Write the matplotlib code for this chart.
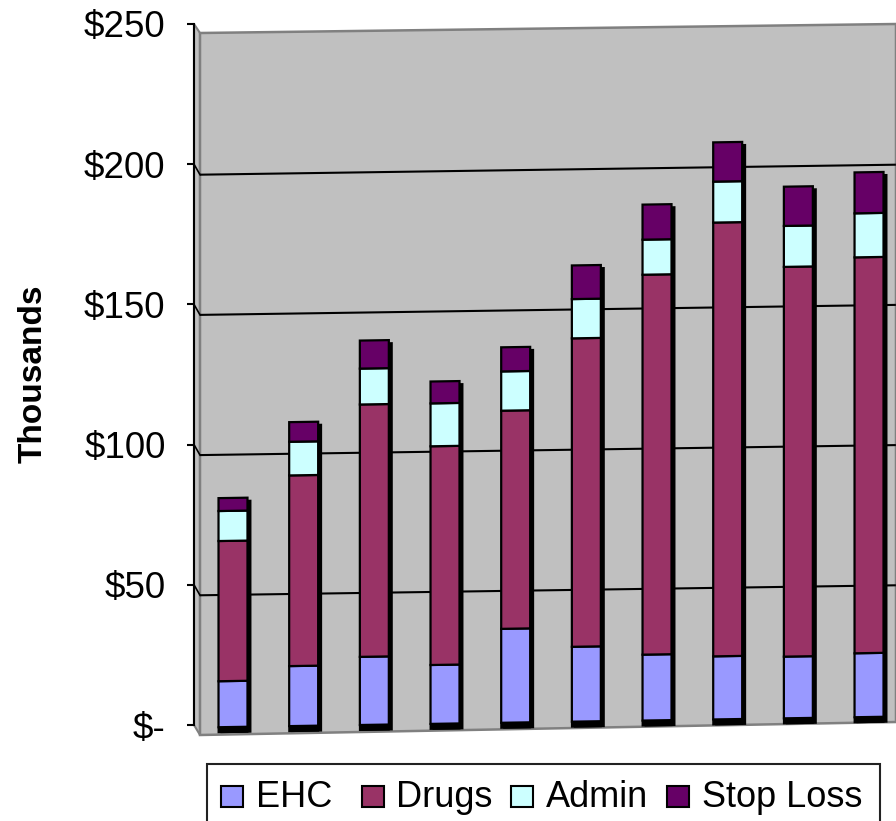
import matplotlib
matplotlib.use('Agg')
import matplotlib.pyplot as plt
import numpy as np
from matplotlib.patches import Polygon, Rectangle
from matplotlib.transforms import Affine2D

plt.rcParams['font.family'] = ['Liberation Sans', 'DejaVu Sans']

# values in $ thousands
ehc = [16.4, 21.4, 24.3, 21.0, 33.5, 26.7, 23.5, 22.5, 22.0, 22.8]
drugs = [50.0, 68.0, 90.0, 78.0, 77.8, 110.0, 135.5, 154.7, 139.0, 141.2]
admin = [10.7, 12.0, 12.8, 15.3, 14.0, 14.0, 12.5, 14.6, 14.6, 15.7]
stop_loss = [4.6, 7.0, 10.0, 7.8, 8.6, 12.0, 12.5, 14.0, 14.0, 14.6]
names = ['EHC', 'Drugs', 'Admin', 'Stop Loss']
colors = ['#9999FF', '#993366', '#CCFFFF', '#660066']
yticks = [0, 50, 100, 150, 200, 250]
yticklabels = ['$-', '$50', '$100', '$150', '$200', '$250']

W, H = 896, 821
fig = plt.figure(figsize=(W / 100, H / 100), dpi=100)
ax = fig.add_axes([194 / W, (H - 725) / H, (W - 194) / W, 701 / H])
ax.patch.set_visible(False)
ax.set_xlim((194 - 233) / 70.67, (896 - 233) / 70.67)
ax.set_ylim(0, 250)

# pixel coords, y down, for the fake 3d wall and the legend
px = Affine2D().scale(1, -1).translate(0, H)
wall = Polygon([(200, 33), (896, 24), (896, 722), (200, 735)], closed=True, transform=px,
               facecolor='#C0C0C0', edgecolor='#808080', lw=1.8, clip_on=False, zorder=0)
side = Polygon([(194, 24), (200, 33), (200, 735), (194, 725)], closed=True, transform=px,
               facecolor='#C0C0C0', edgecolor='#808080', lw=1.5, clip_on=False, zorder=0)
ax.add_patch(side)
ax.add_patch(wall)

# the chart is slightly tilted, so wall and bars each get a shear
wall_tr = Affine2D.from_values(1, 0.362, 0, 1, 0, -3.57) + ax.transData
bar_tr = Affine2D.from_values(1, 0.396, 0, 1, 0, -0.71) + ax.transData

left = ax.get_xlim()[0]
for v in yticks[1:-1]:
    ax.plot([-0.467, 9.38], [v, v], color='black', lw=1.5, transform=wall_tr,
            clip_on=False, zorder=1, solid_capstyle='butt')
    # little diagonal across the side wall
    ax.plot([left, -0.467], [v, v - 3.74], color='black', lw=1.2, clip_on=False, zorder=1)

x = np.arange(len(ehc))
series = [ehc, drugs, admin, stop_loss]
total = np.sum(series, axis=0)

# black depth behind the front faces
ax.bar(x, total + 0.7, 0.41, bottom=-0.7, color='black', edgecolor='black', lw=1.4,
       transform=bar_tr + Affine2D().translate(3, -3), clip_on=False, zorder=2)
ax.bar(x, 1.8, 0.41, bottom=-1.8, color='black', edgecolor='black', lw=1.4,
       transform=bar_tr, clip_on=False, zorder=2)

bottom = np.zeros(len(ehc))
for vals, c in zip(series, colors):
    ax.bar(x, vals, 0.41, bottom=bottom, color=c, edgecolor='black', lw=1.6,
           transform=bar_tr, clip_on=False, zorder=3)
    bottom = bottom + np.array(vals)

for s in ['top', 'right', 'bottom']:
    ax.spines[s].set_visible(False)
ax.spines['left'].set_linewidth(1.5)
ax.set_xticks([])
ax.set_yticks(yticks)
ax.set_yticklabels(yticklabels, fontsize=26.5)
ax.tick_params(axis='y', length=5, width=1.5, pad=15.5)

ax.set_ylabel('Thousands', fontsize=24, fontweight='bold', va='center')
ax.yaxis.set_label_coords((33 - 194) / 702, (725 - 374) / 701)

# legend by hand, the gaps in the original are not even
ax.add_patch(Rectangle((207, 764), 673, 70, transform=px, facecolor='white', edgecolor='#222222',
                       lw=1.5, clip_on=False, zorder=4))
square_x = [221, 362, 511, 667]
text_x = [256, 396, 546, 702]
for name, c, sx, tx in zip(names, colors, square_x, text_x):
    ax.add_patch(Rectangle((sx, 786), 22, 21, transform=px, facecolor=c, edgecolor='black',
                           lw=1.5, clip_on=False, zorder=5))
    ax.text(tx, 797, name, transform=px, fontsize=26, va='center', ha='left', zorder=5)

fig.savefig('out.png', dpi=100)
